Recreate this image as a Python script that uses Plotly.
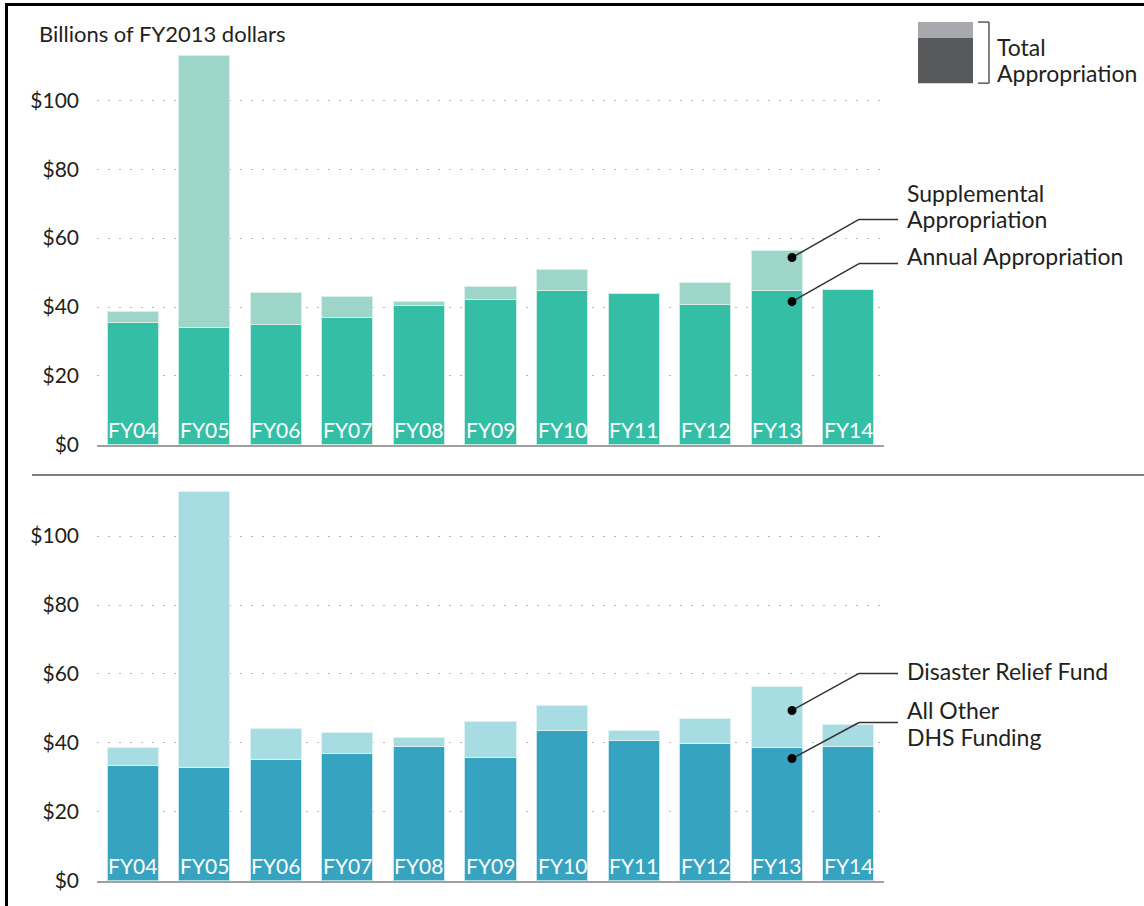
import plotly.graph_objects as go

# the photographed page comes out squeezed vertically by ~1.4%,
# so lay the figure out in a slightly taller box and let it shrink back
K = 0.986
W, H = 1144, round(906 / K)

years = ["FY04", "FY05", "FY06", "FY07", "FY08", "FY09", "FY10", "FY11", "FY12", "FY13", "FY14"]

# top panel: annual vs supplemental (billions FY2013 $)
annual = [35.6, 34.1, 34.9, 37.1, 40.5, 42.3, 44.9, 43.9, 40.6, 44.9, 45.1]
total_top = [38.8, 113.0, 44.2, 43.0, 41.6, 46.0, 50.9, 43.9, 47.1, 56.5, 45.1]
supplemental = [round(t - a, 1) for t, a in zip(total_top, annual)]

# bottom panel: all other DHS vs disaster relief fund
other_dhs = [33.5, 32.8, 35.2, 36.8, 39.1, 35.7, 43.7, 40.8, 39.7, 38.6, 38.9]
total_bottom = [38.7, 112.9, 44.1, 43.0, 41.5, 46.1, 50.9, 43.7, 47.0, 56.5, 45.3]
drf = [round(t - o, 1) for t, o in zip(total_bottom, other_dhs)]

tick_vals = [0, 20, 40, 60, 80, 100]
tick_text = ["$0", "$20", "$40", "$60", "$80", "$100"]

colors = {
    "annual": "#35bea6",
    "supp": "#9dd6c8",
    "other": "#36a3c1",
    "drf": "#a6dce2",
    "txt": "#231f20",
}

FONT = "Lato"


def px(x, y):
    # target-picture pixel -> paper coords
    return x / W, 1 - (y / K) / H


YMAX = 120
SCALE = 3.44  # px per $1B in the target picture
top_zero, bot_zero = 444, 879
x0, x1 = 97, 884

fig = go.Figure()

fig.add_trace(go.Bar(x=years, y=annual, marker_color=colors["annual"], xaxis="x", yaxis="y",
                     marker_line=dict(width=1, color="#c8ece4")))
fig.add_trace(go.Bar(x=years, y=supplemental, marker_color=colors["supp"], xaxis="x", yaxis="y",
                     marker_line=dict(width=1, color="#d8efe9")))
fig.add_trace(go.Bar(x=years, y=other_dhs, marker_color=colors["other"], xaxis="x2", yaxis="y2",
                     marker_line=dict(width=1, color="#c6e6ef")))
fig.add_trace(go.Bar(x=years, y=drf, marker_color=colors["drf"], xaxis="x2", yaxis="y2",
                     marker_line=dict(width=1, color="#dcf1f3")))

# FY labels inside bars
for ax in ["", "2"]:
    for yr in years:
        fig.add_annotation(x=yr, y=0, xref="x" + ax, yref="y" + ax, text=yr, showarrow=False,
                           yanchor="middle", yshift=15,
                           font=dict(family=FONT, size=21, color="white"))

axis_common = dict(range=[0, YMAX], tickvals=tick_vals, ticktext=tick_text,
                   showgrid=True, gridcolor="#b5b5b5", gridwidth=1, griddash="2px,9px",
                   zeroline=False, showline=False, ticks="", ticklabelstandoff=17,
                   tickfont=dict(family=FONT, size=21, color=colors["txt"]))
xaxis_common = dict(showticklabels=False, showgrid=False, zeroline=False,
                    showline=True, linecolor="#a0a0a0", linewidth=2, ticks="",
                    domain=[x0 / W, x1 / W])


def ydomain(zero):
    return [px(0, zero)[1], px(0, zero - YMAX * SCALE)[1]]


fig.update_layout(
    width=W, height=H,
    margin=dict(l=0, r=0, t=0, b=0),
    paper_bgcolor="white", plot_bgcolor="white",
    barmode="stack", bargap=0.287,
    showlegend=False,
    hovermode=False,
    xaxis=dict(**xaxis_common, anchor="y"),
    xaxis2=dict(**xaxis_common, anchor="y2"),
    yaxis=dict(**axis_common, domain=ydomain(top_zero), anchor="x"),
    yaxis2=dict(**axis_common, domain=ydomain(bot_zero), anchor="x2"),
)

shapes = []

def line(xa, ya, xb, yb, color, width):
    (pa, qa), (pb, qb) = px(xa, ya), px(xb, yb)
    shapes.append(dict(type="line", xref="paper", yref="paper", x0=pa, y0=qa, x1=pb, y1=qb,
                       line=dict(color=color, width=width)))

def rect(xa, ya, xb, yb, color):
    (pa, qa), (pb, qb) = px(xa, ya), px(xb, yb)
    shapes.append(dict(type="rect", xref="paper", yref="paper", x0=pa, y0=qa, x1=pb, y1=qb,
                       line=dict(width=0), fillcolor=color))

def dot(xc, yc, r=4.5):
    (pa, qa), (pb, qb) = px(xc - r, yc - r), px(xc + r, yc + r)
    shapes.append(dict(type="circle", xref="paper", yref="paper", x0=pa, y0=qa, x1=pb, y1=qb,
                       line=dict(width=0), fillcolor="black"))

# frame
line(6.5, 3, 6.5, 906, "black", 3)
line(5, 4.5, 1144, 4.5, "black", 3)

# separator between panels
line(32, 474, 1144, 474, "#808080", 2)

# legend swatch + bracket
rect(918, 22, 973, 38, "#a7a9ac")
rect(918, 38, 973, 83, "#58595b")
line(978, 22, 989, 22, "#58595b", 1.5)
line(989, 22, 989, 83, "#58595b", 1.5)
line(978, 83, 989, 83, "#58595b", 1.5)

# callout leaders, top panel
for yd, yk in [(257, 219), (301, 263)]:
    line(792, yd, 859, yk, "#333333", 1.5)
    line(859, yk, 898, yk, "#333333", 1.5)
    dot(792, yd)

# callout leaders, bottom panel
for yd, yk in [(709, 672), (757, 721)]:
    line(792, yd, 859, yk, "#333333", 1.5)
    line(859, yk, 898, yk, "#333333", 1.5)
    dot(792, yd)

fig.update_layout(shapes=shapes)


def label(text, x, y, size=23):
    px_, py_ = px(x, y)
    fig.add_annotation(x=px_, y=py_, xref="paper", yref="paper", text=text, showarrow=False,
                       xanchor="left", yanchor="middle", align="left",
                       font=dict(family=FONT, size=size, color=colors["txt"]))


label("Billions of FY2013 dollars", 37, 33, 22)
label("Total", 995, 47)
label("Appropriation", 995, 73)
label("Supplemental", 905, 193)
label("Appropriation", 905, 219)
label("Annual Appropriation", 905, 255)
label("Disaster Relief Fund", 905, 670)
label("All Other", 905, 709)
label("DHS Funding", 905, 735)

fig.write_html(
    "out.html",
    config={"displayModeBar": False},
    post_script="document.body.style.margin='0';document.documentElement.style.overflow='hidden';",
)
